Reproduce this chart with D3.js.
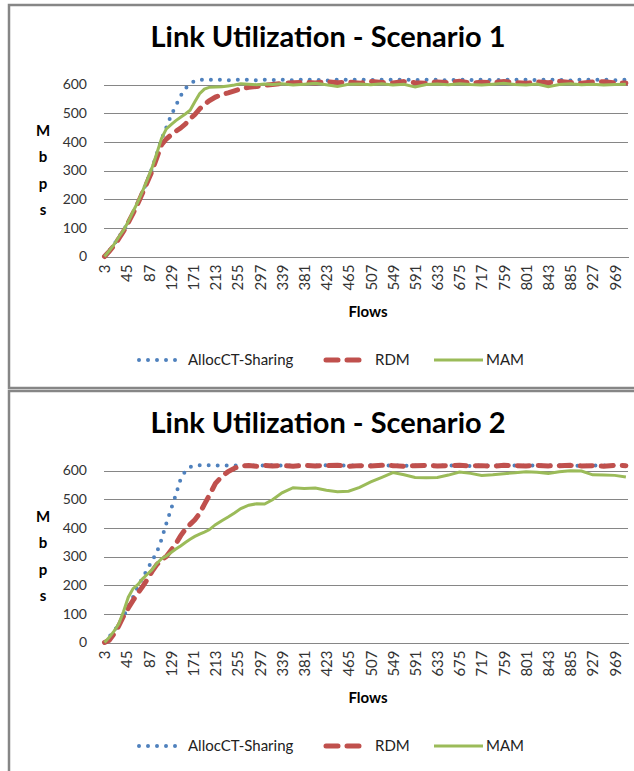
<!DOCTYPE html>
<html>
<head>
<meta charset="utf-8">
<script src="https://cdn.jsdelivr.net/npm/d3@7"></script>
<style>
  body { margin: 0; background: #fff; }
  svg { display: block; font-family: Lato, "Open Sans", sans-serif; }
</style>
</head>
<body>
<script>
// flows sampled along the x axis (same for both scenarios)
const flows = [
  3, 12, 21, 30, 39, 48, 57, 66,
  75, 84, 93, 102, 111, 120, 129, 138,
  147, 156, 165, 174, 183, 192, 201, 213,
  225, 237, 249, 261, 276, 291, 306, 321,
  339, 360, 381, 402, 423, 444, 465, 486,
  507, 528, 549, 570, 591, 612, 633, 654,
  675, 696, 717, 738, 759, 780, 801, 822,
  843, 864, 885, 906, 927, 948, 969, 990
];

// x tick labels
const flowTicks = [3, 45, 87, 129, 171, 213, 255, 297, 339, 381, 423, 465, 507,
  549, 591, 633, 675, 717, 759, 801, 843, 885, 927, 969];
const mbpsTicks = [0, 100, 200, 300, 400, 500, 600];
const seriesNames = ["AllocCT-Sharing", "RDM", "MAM"];

// Scenario 1 (Mbps)
const alloc1 = [
  0, 20, 42, 68, 92, 120, 152, 188,
  225, 265, 308, 358, 410, 450, 492, 526,
  560, 586, 603, 613, 617, 616, 617, 616,
  617, 615, 617, 616, 617, 615, 617, 616,
  617, 615, 617, 616, 614, 617, 616, 617,
  615, 617, 616, 617, 615, 617, 616, 614,
  617, 616, 617, 615, 617, 616, 617, 615,
  617, 616, 614, 617, 616, 617, 615, 617
];
const rdm1 = [
  0, 18, 38, 62, 88, 118, 150, 185,
  222, 260, 298, 345, 390, 410, 424, 437,
  448, 462, 481, 495, 515, 530, 543, 556,
  565, 571, 578, 585, 590, 593, 597, 600,
  604, 606, 608, 605, 610, 606, 609, 604,
  611, 607, 605, 610, 606, 604, 609, 607,
  611, 605, 608, 606, 610, 607, 604, 609,
  606, 611, 607, 604, 609, 610, 606, 605
];
const mam1 = [
  0, 20, 42, 68, 92, 122, 157, 190,
  228, 268, 310, 360, 412, 445, 460, 474,
  486, 497, 510, 540, 568, 584, 590, 591,
  592, 595, 598, 603, 601, 599, 602, 600,
  603, 598, 601, 604, 599, 593, 601, 602,
  599, 603, 598, 601, 591, 600, 602, 599,
  603, 600, 598, 601, 604, 600, 598, 602,
  592, 600, 603, 599, 601, 598, 600, 601
];

// Scenario 2 (Mbps)
const alloc2 = [
  0, 20, 40, 62, 90, 125, 158, 195,
  225, 255, 285, 315, 360, 415, 466, 515,
  570, 598, 612, 617, 618, 617, 618, 617,
  618, 617, 618, 617, 616, 618, 617, 618,
  617, 618, 616, 617, 618, 617, 618, 616,
  618, 617, 618, 616, 617, 618, 617, 618,
  617, 616, 618, 617, 618, 617, 616, 618,
  617, 618, 617, 616, 618, 617, 618, 617
];
const rdm2 = [
  0, 8, 30, 58, 92, 120, 147, 172,
  195, 220, 248, 272, 288, 300, 322, 344,
  372, 395, 412, 428, 450, 482, 512, 555,
  579, 596, 608, 616, 617, 615, 618, 616,
  617, 615, 618, 616, 617, 618, 615, 617,
  616, 618, 617, 615, 617, 618, 616, 617,
  618, 616, 617, 615, 618, 617, 616, 618,
  616, 617, 618, 616, 617, 615, 618, 617
];
const mam2 = [
  0, 18, 40, 65, 108, 158, 188, 202,
  222, 238, 254, 276, 292, 302, 314, 326,
  337, 349, 360, 370, 378, 385, 393, 411,
  425, 438, 452, 467, 479, 484, 483, 498,
  522, 540, 537, 539, 531, 526, 528, 541,
  560, 576, 593, 585, 576, 575, 576, 584,
  595, 590, 583, 585, 589, 592, 596, 594,
  590, 596, 599, 598, 585, 584, 583, 577
];

const width = 634;
const height = 771;

const colors = ["#4F81BD", "#C0504D", "#9BBB59"];
// line styles: dotted blue, dashed red, solid green
const styles = [
  { w: 4, dash: "0 9", cap: "round" },
  { w: 5, dash: "12 9", cap: "round" },
  { w: 3, dash: null, cap: "butt" }
];

const svg = d3.select("body")
  .append("svg")
  .attr("width", width)
  .attr("height", height);

const x = d3.scaleLinear()
  .domain([2, 994])
  .range([104, 628]);

function drawChart(oy, title, data) {
  const g = svg.append("g").attr("transform", "translate(0," + oy + ")");

  // chart frame
  g.append("rect")
    .attr("x", 9)
    .attr("y", 5)
    .attr("width", 700)
    .attr("height", 383)
    .style("fill", "#fff")
    .style("stroke", "#868686")
    .style("stroke-width", 2.5);

  const y = d3.scaleLinear()
    .domain([0, 600])
    .range([256.5, 84.5]);

  // y axis + gridlines
  const yAxis = g.append("g")
    .attr("transform", "translate(104,0)")
    .call(d3.axisLeft(y).tickValues(mbpsTicks).tickSize(-524).tickPadding(17));
  yAxis.select(".domain").remove();
  yAxis.selectAll("line")
    .style("stroke", "#868686")
    .style("shape-rendering", "crispEdges");
  yAxis.selectAll("text")
    .style("font-family", "Lato, sans-serif")
    .style("font-size", "14px")
    .style("fill", "#333");

  // x axis
  const xAxis = g.append("g")
    .attr("transform", "translate(0,256.5)")
    .call(d3.axisBottom(x).tickValues(flowTicks).tickSize(0));
  xAxis.select(".domain")
    .style("stroke", "#868686")
    .style("shape-rendering", "crispEdges");
  xAxis.selectAll("text")
    .attr("transform", "rotate(-90)")
    .attr("x", -8)
    .attr("y", 0)
    .attr("dy", "0.35em")
    .style("text-anchor", "end")
    .style("font-family", "Lato, sans-serif")
    .style("font-size", "15px")
    .style("fill", "#333");

  // series lines
  const line = d3.line()
    .x((d, i) => x(flows[i]))
    .y((d) => y(d));

  data.forEach((vals, k) => {
    g.append("path")
      .datum(vals)
      .attr("d", line)
      .style("fill", "none")
      .style("stroke", colors[k])
      .style("stroke-width", styles[k].w)
      .style("stroke-linecap", styles[k].cap)
      .style("stroke-dasharray", styles[k].dash);
  });

  // title
  g.append("text")
    .attr("x", 328)
    .attr("y", 47)
    .attr("text-anchor", "middle")
    .style("font-size", "29px")
    .style("font-weight", "bold")
    .text(title);

  // y label, stacked letters
  g.selectAll(".ylab")
    .data(["M", "b", "p", "s"])
    .enter()
    .append("text")
    .attr("class", "ylab")
    .attr("x", 43)
    .attr("y", (d, i) => 136 + i * 26.3)
    .attr("text-anchor", "middle")
    .style("font-size", "15px")
    .style("font-weight", "bold")
    .text((d) => d);

  // x label
  g.append("text")
    .attr("x", 368)
    .attr("y", 317)
    .attr("text-anchor", "middle")
    .style("font-size", "15px")
    .style("font-weight", "bold")
    .text("Flows");

  // legend
  const legX = [[137, 182, 188], [324, 370, 375], [434, 483, 486]];
  seriesNames.forEach((name, k) => {
    g.append("line")
      .attr("x1", legX[k][0] + (k < 2 ? 2 : 0))
      .attr("x2", legX[k][1] - (k < 2 ? 2 : 0))
      .attr("y1", 360)
      .attr("y2", 360)
      .style("stroke", colors[k])
      .style("stroke-width", styles[k].w)
      .style("stroke-linecap", styles[k].cap)
      .style("stroke-dasharray", styles[k].dash);
    g.append("text")
      .attr("x", legX[k][2])
      .attr("y", 365)
      .style("font-size", "15px")
      .style("fill", "#222")
      .text(name);
  });
}

drawChart(0, "Link Utilization - Scenario 1", [alloc1, rdm1, mam1]);
drawChart(386, "Link Utilization - Scenario 2", [alloc2, rdm2, mam2]);
</script>
</body>
</html>
